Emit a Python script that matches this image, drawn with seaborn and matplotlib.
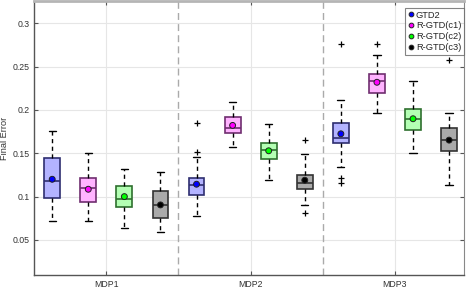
import pandas as pd
import matplotlib
matplotlib.use("Agg")
import matplotlib.pyplot as plt
import seaborn as sns

sns.set_style("whitegrid")
plt.rcParams['font.family'] = ['Liberation Sans', 'DejaVu Sans']

mdps = ["MDP1", "MDP2", "MDP3"]
methods = ["GTD2", "R-GTD(c1)", "R-GTD(c2)", "R-GTD(c3)"]

# box statistics, one row per method, columns MDP1..MDP3
q1 = [[0.0988, 0.1015, 0.1617],
      [0.0938, 0.1729, 0.2200],
      [0.0884, 0.1432, 0.1772],
      [0.0757, 0.1085, 0.1521]]
med = [[0.1185, 0.1139, 0.1675],
       [0.1096, 0.1787, 0.2331],
       [0.0969, 0.1536, 0.1899],
       [0.0900, 0.1162, 0.1656]]
q3 = [[0.1444, 0.1212, 0.1853],
      [0.1216, 0.1918, 0.2416],
      [0.1120, 0.1621, 0.2011],
      [0.1069, 0.1247, 0.1787]]
whis_lo = [[0.0718, 0.0776, 0.1347],
           [0.0718, 0.1567, 0.1965],
           [0.0641, 0.1189, 0.1500],
           [0.0587, 0.0907, 0.1131]]
whis_hi = [[0.1756, 0.1459, 0.2119],
           [0.1498, 0.2096, 0.2632],
           [0.1316, 0.1833, 0.2339],
           [0.1289, 0.1494, 0.1965]]
means = [[0.1200, 0.1143, 0.1725],
         [0.1085, 0.1822, 0.2320],
         [0.1000, 0.1529, 0.1899],
         [0.0904, 0.1189, 0.1652]]
fliers = [[[], [0.1845, 0.152], [0.276, 0.122, 0.116]],
          [[], [], [0.2767]],
          [[], [], []],
          [[], [0.1656, 0.0807], [0.2582]]]

box_face = ["#b3b3ff", "#ffb3ff", "#b3ffb3", "#aaaaaa"]
box_edge = ["#2e2e70", "#702e70", "#2e702e", "#333333"]
dot_colors = ["#0000ff", "#ff00ff", "#00ff00", "#000000"]
offsets = [-0.375, -0.125, 0.125, 0.375]

fig, ax = plt.subplots(figsize=(4.68, 2.89), dpi=100)
fig.subplots_adjust(left=0.073, right=0.992, bottom=0.047, top=0.997)

# boxes
for m in range(len(methods)):
    stats = []
    for g in range(len(mdps)):
        stats.append(dict(med=med[m][g], q1=q1[m][g], q3=q3[m][g],
                          whislo=whis_lo[m][g], whishi=whis_hi[m][g],
                          fliers=fliers[m][g]))
    pos = [g + offsets[m] for g in range(len(mdps))]
    ax.bxp(stats, positions=pos, widths=0.11, capwidths=0.05,
           patch_artist=True, showfliers=True,
           boxprops=dict(facecolor=box_face[m], edgecolor=box_edge[m], lw=1.2),
           medianprops=dict(color=box_edge[m], lw=1.2),
           whiskerprops=dict(color="black", lw=1, linestyle=(0, (3, 2.5))),
           capprops=dict(color="black", lw=1),
           flierprops=dict(marker="+", markeredgecolor="black", markersize=4.5,
                           markeredgewidth=0.9),
           zorder=3)

# means
rows = []
for m, name in enumerate(methods):
    for g in range(len(mdps)):
        rows.append({"x": g + offsets[m], "mean": means[m][g], "method": name})
df = pd.DataFrame(rows)
sns.scatterplot(data=df, x="x", y="mean", hue="method", hue_order=methods,
                palette=dot_colors, s=18, edgecolor="#222222", linewidth=0.7,
                ax=ax, zorder=5)

for xs in [0.5, 1.5]:
    ax.axvline(xs, color="#aaaaaa", lw=1, linestyle=(0, (5, 3)), zorder=1)

ax.set_xlim(-0.5, 2.48)
ax.set_ylim(0.009, 0.326)
ax.set_xticks(range(len(mdps)))
ax.set_xticklabels(mdps)
ax.set_yticks([0.05, 0.1, 0.15, 0.2, 0.25, 0.3])
ax.set_yticklabels(["0.05", "0.1", "0.15", "0.2", "0.25", "0.3"])
ax.set_xlabel("")
ax.set_ylabel("Final Error", fontsize=6.6, color="#333333")
ax.yaxis.set_label_coords(-0.058, 0.5)
ax.tick_params(axis="both", labelsize=6.3, labelcolor="#333333", direction="in",
               length=3, width=0.8, color="#555555", pad=3,
               top=True, right=True, left=True, bottom=True)
ax.grid(True, color="#e6e6e6", lw=0.8)
ax.set_axisbelow(True)
for side in ["left", "bottom"]:
    ax.spines[side].set_color("#555555")
    ax.spines[side].set_linewidth(1)
ax.spines["right"].set_color("#888888")
ax.spines["top"].set_color("#b5b5b5")
ax.spines["top"].set_linewidth(2)

leg = ax.legend(loc="upper right", bbox_to_anchor=(1.006, 0.985), fontsize=6.7,
                frameon=True, fancybox=False, edgecolor="#666666",
                handletextpad=0.1, handlelength=0.8, borderpad=0.3,
                labelspacing=0.2, borderaxespad=0.3, markerscale=0.8)
leg.get_frame().set_linewidth(0.8)

fig.savefig("out.png", dpi=100)
